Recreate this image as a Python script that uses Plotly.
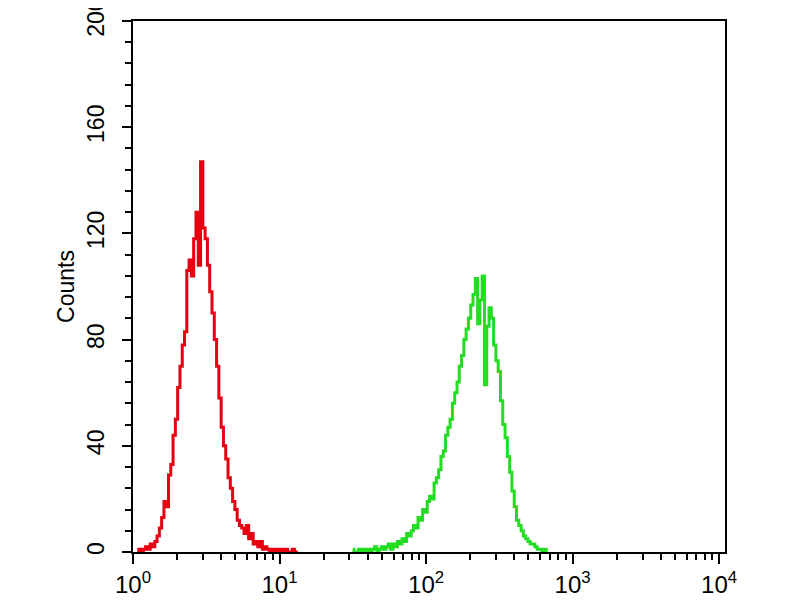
import plotly.graph_objects as go

# Red histogram (control): fluorescence intensity channels and counts
red_intensity = [1.075, 1.114, 1.155, 1.197, 1.241, 1.287, 1.334, 1.383, 1.433, 1.486,
                 1.540, 1.597, 1.655, 1.716, 1.778, 1.843, 1.911, 1.981, 2.054, 2.129,
                 2.207, 2.288, 2.371, 2.458, 2.548, 2.642, 2.738, 2.839, 2.943, 3.051,
                 3.162, 3.278, 3.398, 3.523, 3.652, 3.786, 3.924, 4.068, 4.217, 4.372,
                 4.532, 4.698, 4.870, 5.048, 5.233, 5.425, 5.623, 5.830, 6.043, 6.265,
                 6.494, 6.732, 6.979, 7.234, 7.499, 7.774, 8.059, 8.354, 8.660, 8.978,
                 9.306, 9.647, 10.00, 10.37, 10.75, 11.14, 11.55, 11.97, 12.41, 12.87,
                 13.34]
red_counts = [0, 1, 0, 1, 2, 1, 3, 2, 4, 6,
              9, 13, 19, 17, 29, 33, 44, 50, 62, 70,
              78, 83, 106, 110, 104, 118, 128, 108, 147, 122,
              118, 108, 98, 90, 80, 70, 58, 47, 40, 35,
              28, 24, 19, 16, 12, 10, 9, 7, 10, 5,
              7, 3, 4, 2, 4, 1, 2, 1, 0, 1,
              0, 1, 0, 1, 0, 1, 0, 0, 1, 0,
              0]

# Green histogram (stained sample)
green_intensity = [31.62, 32.78, 33.98, 35.23, 36.52, 37.86, 39.24, 40.68, 42.17, 43.72,
                   45.32, 46.98, 48.70, 50.48, 52.33, 54.25, 56.23, 58.30, 60.43, 62.65,
                   64.94, 67.32, 69.79, 72.34, 74.99, 77.74, 80.59, 83.54, 86.60, 89.78,
                   93.06, 96.47, 100.0, 103.7, 107.5, 111.4, 115.5, 119.7, 124.1, 128.7,
                   133.4, 138.3, 143.3, 148.6, 154.0, 159.7, 165.5, 171.6, 177.8, 184.3,
                   191.1, 198.1, 205.4, 212.9, 220.7, 228.8, 237.1, 245.8, 254.8, 264.2,
                   273.8, 283.9, 294.3, 305.1, 316.2, 327.8, 339.8, 352.3, 365.2, 378.6,
                   392.4, 406.8, 421.7, 437.2, 453.2, 469.8, 487.0, 504.8, 523.3, 542.5,
                   562.3, 583.0, 604.3, 626.5, 649.4, 673.2]
green_counts = [1, 0, 0, 1, 0, 1, 0, 1, 0, 1,
                2, 0, 1, 2, 1, 2, 3, 1, 3, 2,
                4, 3, 5, 4, 7, 6, 8, 10, 9, 13,
                12, 16, 15, 19, 21, 20, 26, 28, 31, 36,
                38, 44, 47, 50, 56, 60, 64, 70, 74, 80,
                84, 88, 93, 97, 103, 86, 95, 104, 63, 85,
                92, 88, 78, 72, 68, 57, 48, 43, 36, 30,
                23, 17, 12, 10, 8, 6, 5, 4, 3, 3,
                2, 1, 1, 0, 1, 0]

# Axis ticks
x_tick_vals = [1, 10, 100, 1000, 10000]
x_tick_text = ["10<sup>0</sup>", "10<sup>1</sup>", "10<sup>2</sup>", "10<sup>3</sup>", "10<sup>4</sup>"]
x_minor_vals = [m * d for d in [1, 10, 100, 1000] for m in range(2, 10)]
y_tick_vals = [0, 40, 80, 120, 160, 200]

fig = go.Figure()
fig.add_trace(go.Scatter(x=red_intensity, y=red_counts, mode="lines",
                         line=dict(color="#e60012", width=3, shape="hvh"),
                         showlegend=False))
fig.add_trace(go.Scatter(x=green_intensity, y=green_counts, mode="lines",
                         line=dict(color="#22dd22", width=3, shape="hvh"),
                         showlegend=False))

fig.update_layout(
    width=800, height=600,
    margin=dict(l=125, r=83, t=13, b=56),
    paper_bgcolor="white", plot_bgcolor="white",
    font=dict(family="Liberation Sans, Arial, sans-serif", color="black"),
)
fig.update_xaxes(
    type="log", range=[0, 4.04], automargin=False,
    tickmode="array", tickvals=x_tick_vals, ticktext=x_tick_text,
    ticks="outside", ticklen=10, tickwidth=2, tickcolor="black",
    minor=dict(tickmode="array", tickvals=x_minor_vals, ticks="outside",
               ticklen=6, tickwidth=2, tickcolor="black"),
    showline=True, linecolor="black", linewidth=2, mirror=True,
    showgrid=False, zeroline=False,
    tickfont=dict(size=24), ticklabeloverflow="allow",
)
fig.update_yaxes(
    range=[0, 200], automargin=False,
    tickmode="array", tickvals=y_tick_vals, tickangle=-90,
    ticks="outside", ticklen=9, tickwidth=2, tickcolor="black",
    minor=dict(dtick=8, tick0=0, ticks="outside", ticklen=6, tickwidth=2, tickcolor="black"),
    showline=True, linecolor="black", linewidth=2, mirror=True,
    showgrid=False, zeroline=False,
    tickfont=dict(size=23), ticklabeloverflow="allow",
    ticklabelstandoff=9,
    title=dict(text="Counts", font=dict(size=23), standoff=2),
)

fig.write_html("out.html")
